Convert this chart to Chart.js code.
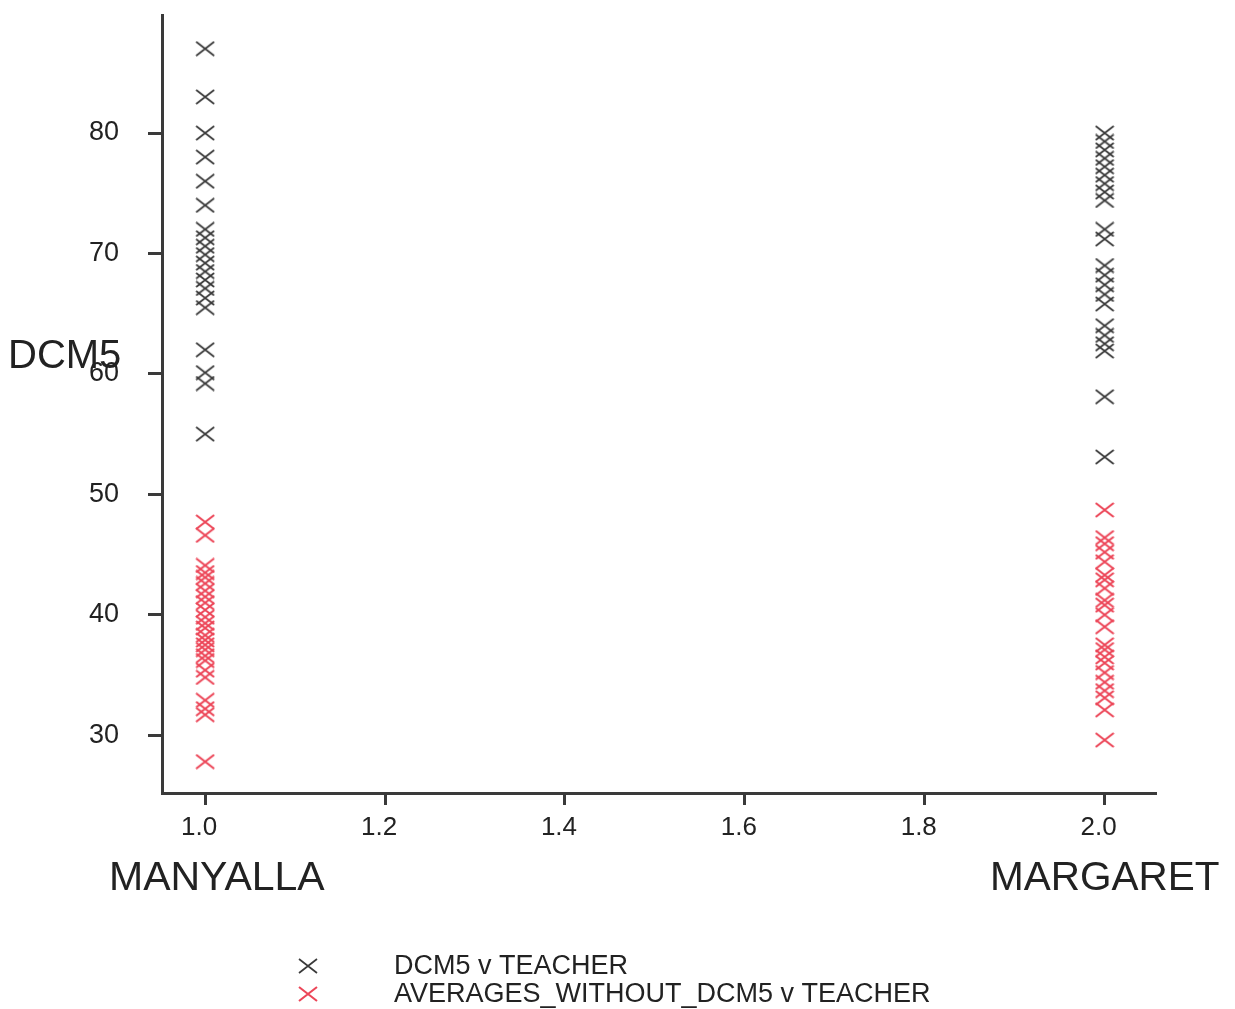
<!DOCTYPE html>
<html>
<head>
<meta charset="utf-8">
<script src="https://cdn.jsdelivr.net/npm/chart.js@4/dist/chart.umd.min.js"></script>
<style>
  html, body { margin: 0; padding: 0; background: #ffffff; }
  #wrap { position: relative; width: 1235px; height: 1009px; }
  canvas { position: absolute; left: 0; top: 0; }
  .lbl { position: absolute; font-family: "Liberation Sans", Arial, sans-serif; color: #222222; white-space: nowrap; line-height: 1; }
</style>
</head>
<body>
<div id="wrap">
  <canvas id="c" width="1235" height="1009"></canvas>
  <div class="lbl" style="left:8px; top:334px; font-size:40px;">DCM5</div>
  <div class="lbl" style="left:109px; top:856px; font-size:41px;">MANYALLA</div>
  <div class="lbl" style="left:990px; top:856px; font-size:40.5px;">MARGARET</div>
</div>
<script>
// ---- data ----
const teacherCategories = ["MANYALLA", "MARGARET"];
const teacherCodes = [1.0, 2.0];

const dcm5Manyalla = [87, 83, 80, 78, 76, 74, 72, 71.3, 70.6, 69.9, 69.2, 68.5, 67.8, 67.1, 66.3, 65.5, 62, 60.1, 59.2, 55];
const dcm5Margaret = [80, 79.3, 78.6, 77.9, 77.2, 76.5, 75.8, 75.1, 74.4, 72, 71.2, 69, 68.2, 67.4, 66.6, 65.8, 64, 63.2, 62.5, 61.9, 58.1, 53.1];

const avgManyalla = [47.7, 46.6, 44.1, 43.5, 43.1, 42.6, 42.0, 41.5, 41.0, 40.4, 39.8, 39.3, 38.9, 38.3, 37.9, 37.5, 37.1, 36.6, 36.2, 35.4, 34.8, 32.9, 32.2, 31.7, 27.8];
const avgMargaret = [48.7, 46.4, 45.9, 45.2, 44.4, 43.3, 42.9, 42.2, 41.2, 40.8, 40.0, 39.0, 37.5, 37.1, 36.5, 36.0, 35.2, 34.4, 33.7, 33.1, 32.1, 29.6];

const seriesNames = ["DCM5 v TEACHER", "AVERAGES_WITHOUT_DCM5 v TEACHER"];
const xTickValues = [1.0, 1.2, 1.4, 1.6, 1.8, 2.0];
const yTickValues = [30, 40, 50, 60, 70, 80];

// ---- helpers ----
function makeCross(color, lw) {
  const w = 20, h = 16;
  const cv = document.createElement('canvas');
  cv.width = w; cv.height = h;
  const g = cv.getContext('2d');
  g.strokeStyle = color;
  g.lineWidth = lw;
  g.lineCap = 'butt';
  g.beginPath();
  g.moveTo(1, 1); g.lineTo(w - 1, h - 1);
  g.moveTo(w - 1, 1); g.lineTo(1, h - 1);
  g.stroke();
  return cv;
}
function pts(code, vals) { return vals.map(v => ({ x: code, y: v })); }

const blackCross = makeCross('#3a3a3a', 1.7);
const redCross = makeCross('#ec4658', 2.1);

const customLegend = {
  id: 'customLegend',
  afterDraw(chart) {
    const ctx = chart.ctx;
    const items = [
      { img: blackCross, text: seriesNames[0], y: 966 },
      { img: redCross, text: seriesNames[1], y: 994 }
    ];
    ctx.save();
    ctx.font = '27px "Liberation Sans", Arial, sans-serif';
    ctx.fillStyle = '#222222';
    ctx.textBaseline = 'middle';
    items.forEach(it => {
      ctx.drawImage(it.img, 308 - it.img.width / 2, it.y - it.img.height / 2);
      ctx.fillText(it.text, 394, it.y + 1);
    });
    ctx.restore();
  }
};

const axisColor = '#3a3a3a';

new Chart(document.getElementById('c'), {
  type: 'scatter',
  data: {
    datasets: [
      {
        label: seriesNames[0],
        data: pts(teacherCodes[0], dcm5Manyalla).concat(pts(teacherCodes[1], dcm5Margaret)),
        pointStyle: blackCross,
        borderColor: '#3a3a3a',
        backgroundColor: '#3a3a3a'
      },
      {
        label: seriesNames[1],
        data: pts(teacherCodes[0], avgManyalla).concat(pts(teacherCodes[1], avgMargaret)),
        pointStyle: redCross,
        borderColor: '#ec4658',
        backgroundColor: '#ec4658'
      }
    ]
  },
  options: {
    responsive: false,
    animation: false,
    devicePixelRatio: 1,
    layout: { autoPadding: false, padding: { left: 0, top: 15, right: 80, bottom: 156 } },
    plugins: {
      legend: { display: false },
      tooltip: { enabled: false }
    },
    scales: {
      x: {
        type: 'linear',
        min: 0.952,
        max: 2.056,
        afterBuildTicks: s => { s.ticks = xTickValues.map(v => ({ value: v })); },
        afterFit: s => { s.height = 60; s.paddingLeft = 0; s.paddingRight = 0; s.paddingTop = 0; s.paddingBottom = 0; },
        border: { display: true, color: axisColor, width: 3 },
        grid: { display: true, drawOnChartArea: false, drawTicks: true, tickLength: 12, color: axisColor, lineWidth: 3 },
        ticks: {
          color: '#222222',
          padding: 7,
          labelOffset: -6,
          font: { family: '"Liberation Sans", Arial, sans-serif', size: 26 },
          callback: v => Number(v).toFixed(1),
          maxRotation: 0,
          autoSkip: false
        }
      },
      y: {
        type: 'linear',
        min: 25.2,
        max: 89.8,
        afterBuildTicks: s => { s.ticks = yTickValues.map(v => ({ value: v })); },
        afterFit: s => { s.width = 162; s.paddingTop = 0; s.paddingBottom = 0; s.paddingLeft = 0; s.paddingRight = 0; },
        border: { display: true, color: axisColor, width: 3 },
        grid: { display: true, drawOnChartArea: false, drawTicks: true, tickLength: 14, color: axisColor, lineWidth: 3 },
        ticks: {
          color: '#222222',
          padding: 29,
          font: { family: '"Liberation Sans", Arial, sans-serif', size: 27 },
          callback: v => String(v),
          autoSkip: false
        }
      }
    }
  },
  plugins: [customLegend]
});
</script>
</body>
</html>
